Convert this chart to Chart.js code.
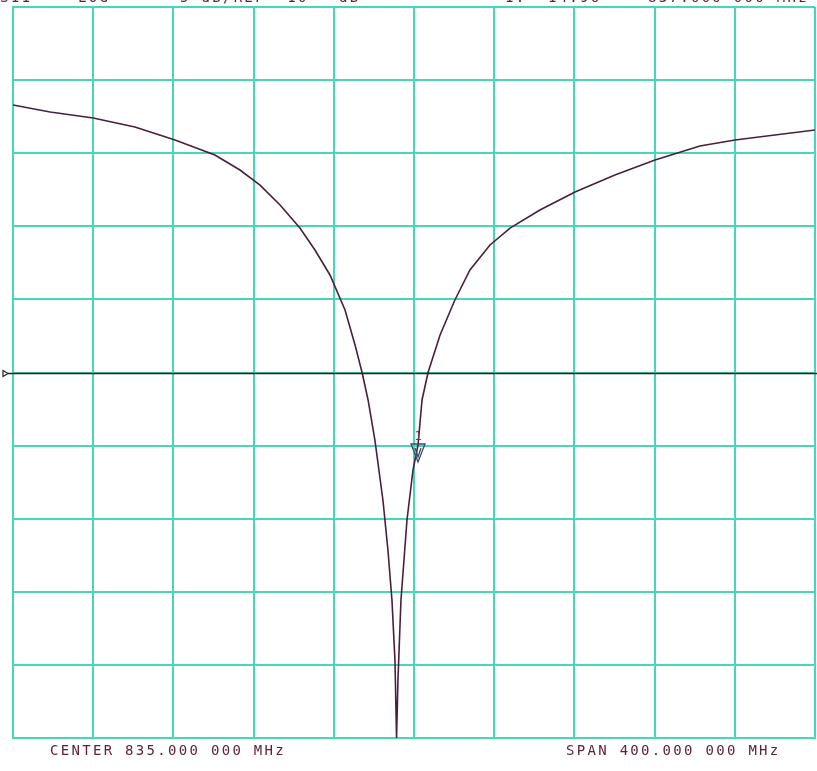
<!DOCTYPE html>
<html>
<head>
<meta charset="utf-8">
<script src="https://cdn.jsdelivr.net/npm/chart.js@4/dist/chart.umd.min.js"></script>
<style>
  html, body { margin: 0; padding: 0; background: #fff; }
  canvas { display: block; }
</style>
</head>
<body>
<canvas id="s11" width="817" height="771"></canvas>
<script>
// S11 log magnitude sweep, 635 - 1035 MHz
const freqMHz = [635, 653.5, 675, 695.8, 715.8, 735.7, 748.2, 758.2, 768.2, 778.1, 785.6, 793.1, 800.6, 805.6,
  809.1, 812.1, 815.5, 819.5, 822, 824, 825.5, 826.3, 827, 828.5, 831.5, 834.5, 837, 839, 842, 848, 855.4,
  862.9, 872.9, 882.9, 897.8, 915.3, 935.2, 955.2, 977.6, 995.1, 1015, 1035];
const s11dB = [8.3, 7.82, 7.41, 6.79, 5.9, 4.88, 3.85, 2.82, 1.46, -0.12, -1.62, -3.33, -5.72, -8.12,
  -10, -11.88, -14.62, -18.72, -22.14, -25.56, -29.66, -35, -31.03, -25.56, -20.09, -16.67, -14.96, -11.88,
  -10, -7.43, -5.04, -2.99, -1.28, -0.12, 1.11, 2.35, 3.51, 4.53, 5.49, 5.9, 6.24, 6.59];

const startMHz = 635, stopMHz = 1035, stepMHz = 40;
const topDb = 15, bottomDb = -35, dbPerDiv = 5, refDb = -10;
const markerMHz = 837, markerDb = -14.96;

// header line is cut off at the top edge of the screen shot
const headerTexts = [['S11', 0], ['LOG', 78], ['5 dB/REF -10', 180], ['dB', 339],
  ['1: -14.96', 505], ['837.000 000 MHz', 648]];
const footerLeft = 'CENTER 835.000 000 MHz';
const footerRight = 'SPAN 400.000 000 MHz';

const gridColor = '#46d8b6';
const traceColor = '#4a1f3c';
const textColor = '#5e2238';

const overlay = {
  id: 'overlay',
  afterDatasetsDraw(chart) {
    const { ctx, scales: { x, y }, chartArea } = chart;
    ctx.save();
    // reference line and its arrow
    const ry = Math.round(y.getPixelForValue(refDb)) + 0.5;
    ctx.strokeStyle = '#222';
    ctx.lineWidth = 1.5;
    ctx.beginPath();
    ctx.moveTo(8, ry);
    ctx.lineTo(chart.width, ry);
    ctx.stroke();
    ctx.lineWidth = 1.2;
    ctx.beginPath();
    ctx.moveTo(3, ry - 3);
    ctx.lineTo(8, ry);
    ctx.lineTo(3, ry + 3);
    ctx.closePath();
    ctx.stroke();

    // marker 1
    const mx = x.getPixelForValue(markerMHz);
    const my = y.getPixelForValue(markerDb);
    ctx.strokeStyle = '#3a4a6a';
    ctx.lineWidth = 1.3;
    ctx.beginPath();
    ctx.moveTo(mx - 7, my - 1);
    ctx.lineTo(mx + 7, my - 1);
    ctx.lineTo(mx, my + 17);
    ctx.closePath();
    ctx.stroke();
    ctx.beginPath();
    ctx.moveTo(mx - 3, my + 3);
    ctx.lineTo(mx, my + 12);
    ctx.lineTo(mx + 3, my + 3);
    ctx.stroke();
    ctx.fillStyle = '#7a2a55';
    ctx.font = '12px "DejaVu Sans Mono"';
    ctx.textAlign = 'center';
    ctx.textBaseline = 'bottom';
    ctx.fillText('1', mx, my - 2);

    // annotation text
    ctx.fillStyle = textColor;
    ctx.font = '14px "DejaVu Sans Mono"';
    ctx.letterSpacing = '2.3px';
    ctx.textAlign = 'left';
    ctx.textBaseline = 'alphabetic';
    ctx.fillText(footerLeft, 50, chartArea.bottom + 17);
    ctx.fillText(footerRight, 566, chartArea.bottom + 17);
    headerTexts.forEach(([t, hx]) => ctx.fillText(t, hx, 1.5));
    ctx.restore();
  }
};

new Chart(document.getElementById('s11'), {
  type: 'line',
  data: {
    datasets: [{
      data: freqMHz.map((f, i) => ({ x: f, y: s11dB[i] })),
      borderColor: traceColor,
      borderWidth: 1.6,
      pointRadius: 0,
      tension: 0
    }]
  },
  options: {
    responsive: false,
    animation: false,
    events: [],
    layout: { padding: { left: 13, top: 7, right: 2, bottom: 33 } },
    plugins: { legend: { display: false }, tooltip: { enabled: false } },
    scales: {
      x: {
        type: 'linear', min: startMHz, max: stopMHz,
        ticks: { display: false, stepSize: stepMHz },
        grid: { color: gridColor, lineWidth: 2, drawTicks: false },
        border: { color: gridColor, width: 2 },
        afterFit(s) { s.height = 0; }
      },
      y: {
        min: bottomDb, max: topDb,
        ticks: { display: false, stepSize: dbPerDiv },
        grid: { color: gridColor, lineWidth: 2, drawTicks: false },
        border: { color: gridColor, width: 2 },
        afterFit(s) { s.width = 0; }
      }
    }
  },
  plugins: [overlay]
});
</script>
</body>
</html>
